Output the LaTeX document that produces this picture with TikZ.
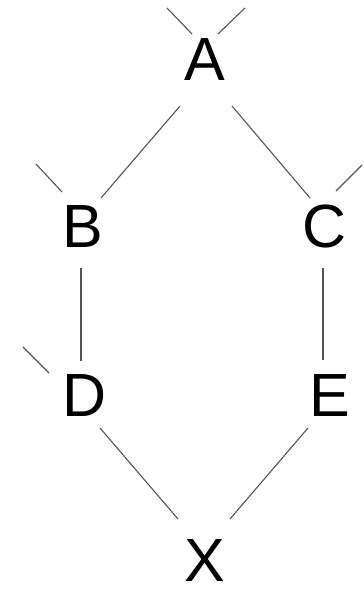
\documentclass[tikz,border=0pt]{standalone}
\usepackage{fontspec}
\setmainfont{Liberation Sans}
\usetikzlibrary{calc}
\begin{document}
\begin{tikzpicture}[x=1pt,y=-1pt,
  lbl/.style={inner sep=0pt,font=\fontsize{61}{63}\selectfont,text height=39pt,text depth=3pt},
  edge/.style={draw={rgb,255:red,85;green,85;blue,85},line width=1.1pt}]
\useasboundingbox (0,0) rectangle (364,589);
\node[lbl] (A) at (205,62) {A};
\node[lbl] (B) at (83,229) {B};
\node[lbl] (C) at (325,229) {C};
\node[lbl] (D) at (85,398) {D};
\node[lbl] (E) at (330,398) {E};
\node[lbl] (X) at (205,563) {X};
% connectors
\draw[edge] ($(A)+(-25,44)$) -- ($(B)+(18,-31)$);
\draw[edge] ($(A)+(27,44)$) -- ($(C)+(-15,-31)$);
\draw[edge] ($(B)+(-2,39)$) -- ($(D)+(-4,-37)$);
\draw[edge] ($(C)+(-2,39)$) -- ($(E)+(-7,-38)$);
\draw[edge] ($(D)+(15,30)$) -- ($(X)+(-27,-44)$);
\draw[edge] ($(E)+(-22,30)$) -- ($(X)+(25,-44)$);
% stubs
\draw[edge] ($(A)+(-38,-54)$) -- ($(A)+(-13,-28)$);
\draw[edge] ($(A)+(13,-28)$) -- ($(A)+(40,-54)$);
\draw[edge] ($(B)+(-47,-65)$) -- ($(B)+(-21,-37)$);
\draw[edge] ($(C)+(11,-38)$) -- ($(C)+(37,-64)$);
\draw[edge] ($(D)+(-62,-51)$) -- ($(D)+(-36,-25)$);
\end{tikzpicture}
\end{document}
